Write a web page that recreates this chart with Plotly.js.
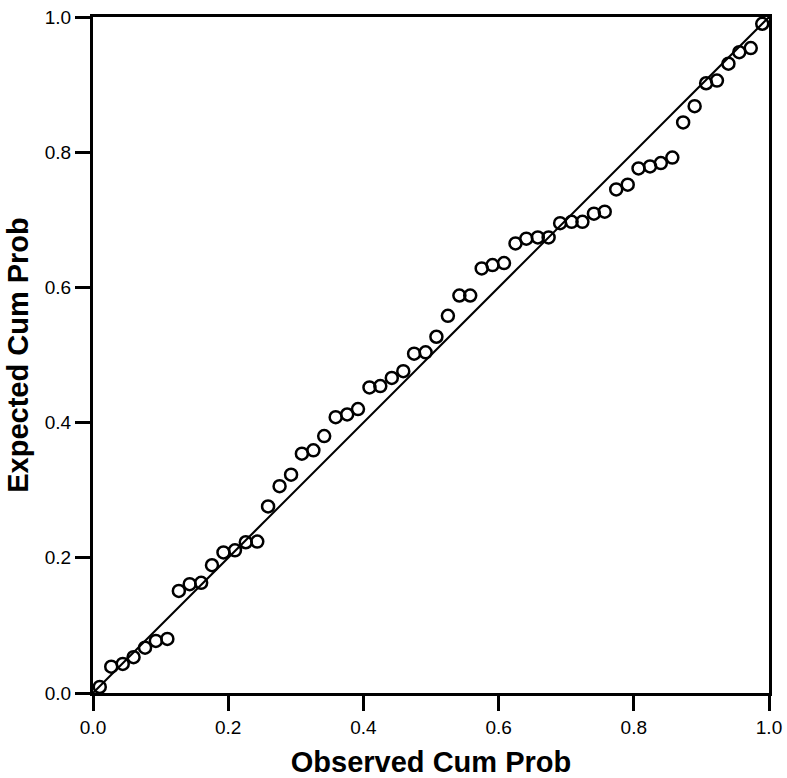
<!DOCTYPE html>
<html>
<head>
<meta charset="utf-8">
<script src="https://cdn.plot.ly/plotly-3.0.1.min.js"></script>
<style>html,body{margin:0;padding:0;background:#fff;}#chart{width:787px;height:778px;visibility:hidden;}</style>
</head>
<body>
<div id="chart"></div>
<script>
var observedCumProb = [
  0.010, 0.027, 0.044, 0.060, 0.077, 0.093, 0.110, 0.127, 0.143, 0.160,
  0.176, 0.193, 0.210, 0.226, 0.243, 0.259, 0.276, 0.293, 0.309, 0.326,
  0.342, 0.359, 0.376, 0.392, 0.409, 0.425, 0.442, 0.459, 0.475, 0.492,
  0.508, 0.525, 0.542, 0.558, 0.575, 0.591, 0.608, 0.625, 0.641, 0.658,
  0.674, 0.691, 0.708, 0.724, 0.741, 0.757, 0.774, 0.791, 0.807, 0.824,
  0.840, 0.857, 0.873, 0.890, 0.907, 0.923, 0.940, 0.956, 0.973, 0.990
];
var expectedCumProb = [
  0.009, 0.039, 0.043, 0.053, 0.067, 0.077, 0.080, 0.151, 0.161, 0.163,
  0.189, 0.208, 0.211, 0.223, 0.224, 0.276, 0.306, 0.323, 0.354, 0.359,
  0.380, 0.408, 0.412, 0.420, 0.452, 0.454, 0.466, 0.476, 0.502, 0.504,
  0.527, 0.558, 0.588, 0.588, 0.628, 0.633, 0.636, 0.665, 0.672, 0.674,
  0.674, 0.695, 0.697, 0.697, 0.709, 0.712, 0.745, 0.752, 0.776, 0.779,
  0.784, 0.792, 0.844, 0.868, 0.902, 0.906, 0.931, 0.948, 0.954, 0.990
];
var refLine = [0, 1];
var tickVals = [0, 0.2, 0.4, 0.6, 0.8, 1.0];
var tickText = ['0.0', '0.2', '0.4', '0.6', '0.8', '1.0'];
var xTitle = 'Observed Cum Prob';
var yTitle = 'Expected Cum Prob';

var FONT = 'Liberation Sans, Arial, sans-serif';

var traces = [
  {x: refLine, y: refLine, type: 'scatter', mode: 'lines',
    line: {color: '#000000', width: 2}, hoverinfo: 'skip', showlegend: false},
  {x: observedCumProb, y: expectedCumProb, type: 'scatter', mode: 'markers',
    marker: {symbol: 'circle-open', size: 12, color: '#000000', line: {width: 2.5}},
    showlegend: false}
];

function axis(titleText, standoff) {
  return {
    range: [0, 1],
    tickmode: 'array',
    tickvals: tickVals,
    ticktext: tickText,
    ticks: 'outside',
    ticklen: 15,
    tickwidth: 2.5,
    tickcolor: '#000000',
    showline: true,
    linecolor: '#000000',
    linewidth: 3,
    mirror: true,
    showgrid: false,
    zeroline: false,
    tickfont: {family: FONT, size: 19, color: '#000000'},
    automargin: false,
    title: {text: '<b>' + titleText + '</b>', font: {family: FONT, size: 29, color: '#000000'}, standoff: standoff}
  };
}

var layout = {
  width: 787, height: 778,
  margin: {l: 93, r: 18, t: 17, b: 85},
  xaxis: axis(xTitle, 16),
  yaxis: axis(yTitle, 8),
  showlegend: false
};

var chartDiv = document.getElementById('chart');
function reveal() { chartDiv.style.visibility = 'visible'; chartDiv.getBoundingClientRect(); }
setTimeout(reveal, 2000);
Plotly.newPlot(chartDiv, traces, layout, {displayModeBar: false}).then(function (gd) {
  var ticks = gd.querySelectorAll('path.xtick, path.ytick');
  for (var i = 0; i < ticks.length; i++) { getComputedStyle(ticks[i]).display; }
  reveal();
});
</script>
</body>
</html>
